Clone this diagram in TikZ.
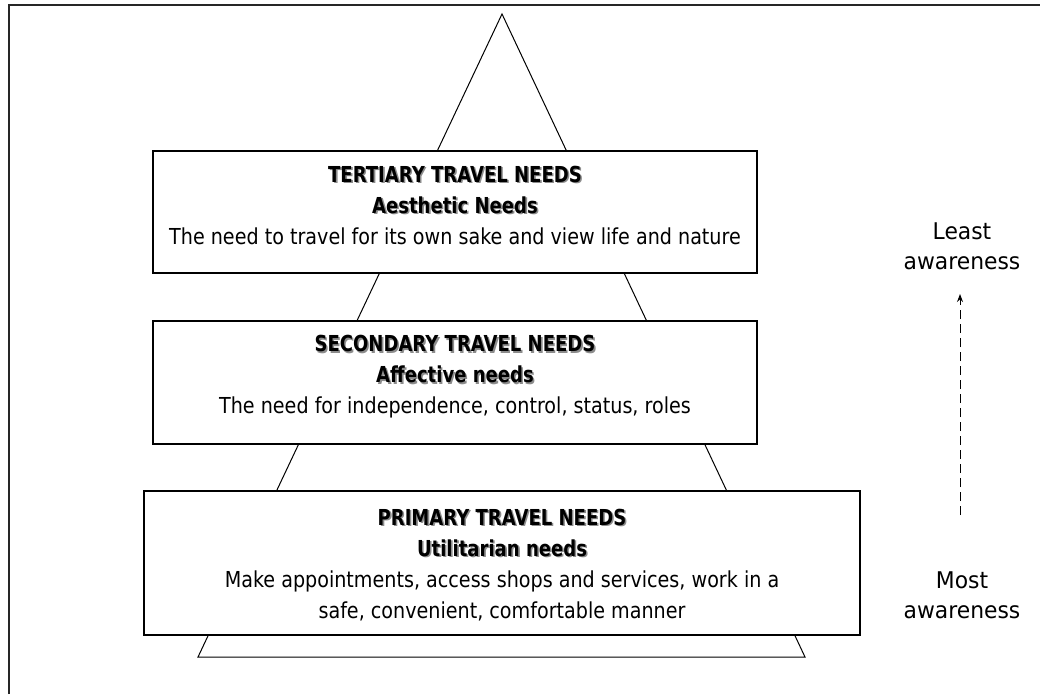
\documentclass[tikz,border=0pt]{standalone}
\usepackage{fontspec}
\setmainfont{DejaVu Sans}[FakeStretch=0.87, BoldFeatures={FakeStretch=0.82}]
\newfontfamily\sidefont{DejaVu Sans}[FakeStretch=0.95]
\usetikzlibrary{arrows.meta}
\newcommand{\shd}[1]{\makebox[0pt][l]{\hspace{1.6pt}\raisebox{-1.6pt}{\color{black!45}#1}}#1}
\tikzset{
  levelbox/.style={draw=black, line width=1.1pt, fill=white, inner sep=0pt},
  leveltext/.style={align=center, font=\fontsize{22}{31}\selectfont, inner sep=0pt},
  sidetext/.style={align=center, font=\sidefont\fontsize{23}{30}\selectfont, inner sep=0pt},
}
\begin{document}
\begin{tikzpicture}[x=1pt,y=-1pt]
\useasboundingbox (0,0) rectangle (1040,694);
% outer frame (left and top edges visible)
\draw[line width=2pt, black!85] (9,694) -- (9,5) -- (1040,5);
% triangle behind the boxes
\coordinate (apex) at (502,14);
\coordinate (bl) at (198,657);
\coordinate (br) at (805,657);
\draw[line width=1pt] (bl) -- (apex) -- (br) -- cycle;
% boxes
\node[levelbox, minimum width=604pt, minimum height=122pt] (tert) at (455,212) {};
\node[levelbox, minimum width=604pt, minimum height=123pt] (sec) at (455,382.5) {};
\node[levelbox, minimum width=716pt, minimum height=144pt] (prim) at (502,563) {};
% texts
\node[leveltext] (tertT) at (455,205) {\textbf{\shd{TERTIARY TRAVEL NEEDS}}\\ \textbf{\shd{Aesthetic Needs}}\\ The need to travel for its own sake and view life and nature};
\node[leveltext] (secT) at (455,377) {\textbf{\shd{SECONDARY TRAVEL NEEDS}}\\ \textbf{\shd{Affective needs}}\\ The need for independence, control, status, roles};
\node[leveltext] (primT) at (502,565) {\textbf{\shd{PRIMARY TRAVEL NEEDS}}\\ \textbf{\shd{Utilitarian needs}}\\ Make appointments, access shops and services, work in a\\ safe, convenient, comfortable manner};
% side labels
\node[sidetext] (least) at (962,246) {Least\\awareness};
\node[sidetext] (most) at (962,595) {Most\\awareness};
\coordinate (arrS) at (960,515);
\coordinate (arrE) at (960,294);
\draw[line width=1pt, dash pattern=on 9pt off 5pt, -{Stealth[length=8pt,width=6pt]}] (arrS) -- (arrE);
\end{tikzpicture}
\end{document}
